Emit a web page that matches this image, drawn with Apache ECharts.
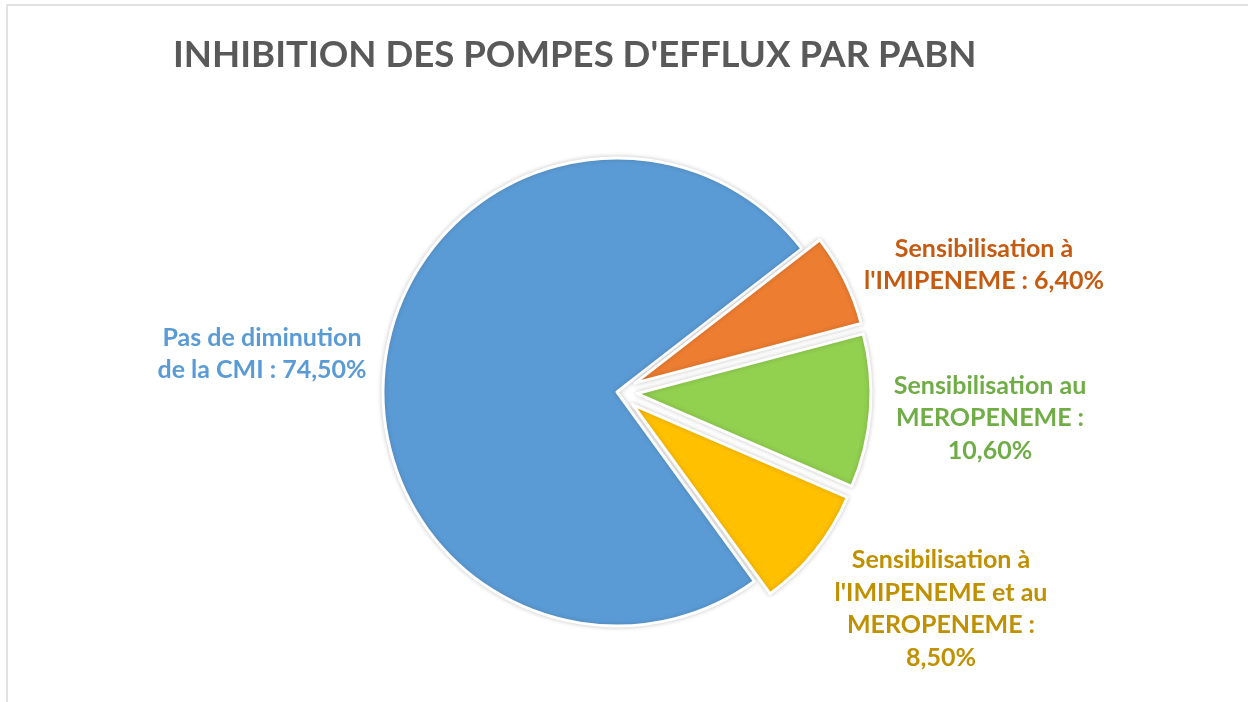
<!DOCTYPE html>
<html>
<head>
<meta charset="utf-8">
<script src="https://cdn.jsdelivr.net/npm/echarts@6/dist/echarts.min.js"></script>
<style>
  html, body { margin: 0; padding: 0; background: #fff; }
  #main { width: 1248px; height: 702px; }
</style>
</head>
<body>
<div id="main"></div>
<script>
// donnees
const categories = [
  'Pas de diminution\nde la CMI',
  'Sensibilisation à\nl\'IMIPENEME',
  'Sensibilisation au\nMEROPENEME',
  'Sensibilisation à\nl\'IMIPENEME et au\nMEROPENEME'
];
const values = [74.5, 6.4, 10.6, 8.5];
// la valeur passe a la ligne pour les deux derniers
const valueBreak = [false, false, true, true];
const exploded = [false, true, true, true];

const sliceColors = ['#5B9BD5', '#ED7D31', '#92D050', '#FFC000'];
const labelColors = ['#5B9BD5', '#C55A11', '#70AD47', '#BF9000'];
// centre des etiquettes
const labelPos = [[262, 354], [984, 265], [990, 418], [941, 609]];

const myChart = echarts.init(document.getElementById('main'));

const fmt = v => v.toFixed(2).replace('.', ',') + '%';
const pieCenter = [617, 392];
const pieRadius = 234;
const startAngle = -54;

myChart.setOption({
  backgroundColor: '#fff',
  animation: false,
  title: {
    text: 'INHIBITION DES POMPES D\'EFFLUX PAR PABN',
    left: 168,
    top: 32,
    textStyle: { fontFamily: 'Lato', fontWeight: 'bold', fontSize: 36.6, color: '#595959' }
  },
  graphic: [{
    type: 'rect',
    shape: { x: 7, y: 5, width: 1260, height: 720 },
    style: { fill: 'none', stroke: '#d9d9d9', lineWidth: 1.5 },
    silent: true
  }],
  series: [
    // secteurs (eclates)
    {
      type: 'pie',
      center: pieCenter,
      radius: pieRadius,
      startAngle: startAngle,
      clockwise: true,
      selectedMode: 'multiple',
      selectedOffset: 20,
      itemStyle: {
        borderColor: '#fff',
        borderWidth: 3,
        shadowBlur: 5,
        shadowColor: 'rgba(0,0,0,0.18)'
      },
      label: { show: false },
      labelLine: { show: false },
      emphasis: { disabled: true },
      data: categories.map((c, i) => ({
        name: c,
        value: values[i],
        selected: exploded[i],
        itemStyle: { color: sliceColors[i] }
      }))
    },
    // etiquettes seulement
    {
      type: 'pie',
      silent: true,
      center: pieCenter,
      radius: pieRadius,
      startAngle: startAngle,
      clockwise: true,
      itemStyle: { color: 'rgba(0,0,0,0)', borderWidth: 0 },
      label: {
        show: true,
        position: 'inside',
        fontFamily: 'Lato',
        fontWeight: 'bold',
        fontSize: 25,
        lineHeight: 32.5,
        align: 'center',
        formatter: p => p.name + ' :' + (valueBreak[p.dataIndex] ? '\n' : ' ') + fmt(p.value)
      },
      labelLine: { show: false },
      labelLayout: p => ({
        x: labelPos[p.dataIndex][0],
        y: labelPos[p.dataIndex][1],
        align: 'center',
        verticalAlign: 'middle'
      }),
      emphasis: { disabled: true },
      data: categories.map((c, i) => ({
        name: c,
        value: values[i],
        label: { color: labelColors[i] }
      }))
    }
  ]
});
</script>
</body>
</html>
